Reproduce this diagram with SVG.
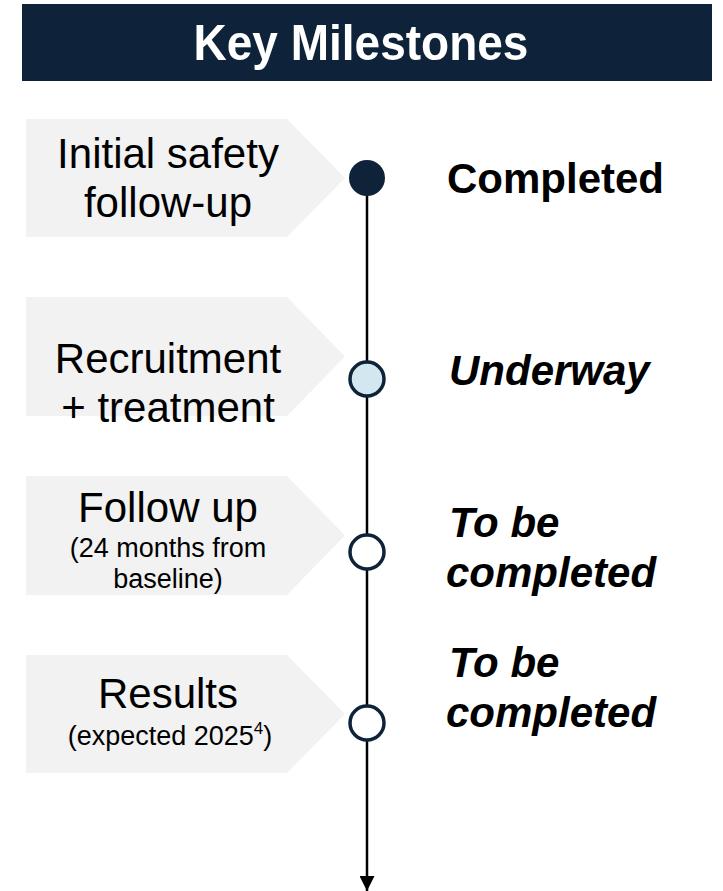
<svg xmlns="http://www.w3.org/2000/svg" width="723" height="891" viewBox="0 0 723 891">
  <defs>
    <style>
      .step { fill: #f2f2f2; }
      .lbl { font-family: "Liberation Sans", Arial, sans-serif; font-size: 42px; fill: #000; text-anchor: middle; }
      .sub { font-size: 27px; }
      .status { font-family: "Liberation Sans", Arial, sans-serif; font-size: 42px; font-weight: bold; fill: #000; }
      .it { font-style: italic; }
      .dot { stroke: #0e2339; stroke-width: 3.5; }
      .axis { stroke: #000; stroke-width: 2.5; fill: none; }
    </style>
    <marker id="arrow" markerWidth="15" markerHeight="15" refX="15" refY="7.5" orient="auto" markerUnits="userSpaceOnUse">
      <path d="M0,0 L15,7.5 L0,15 Z" fill="#000"/>
    </marker>
  </defs>

  <rect width="723" height="891" fill="#fff"/>

  <!-- Title bar -->
  <g id="title">
    <rect x="22" y="4" width="690" height="77" fill="#0e2339"/>
    <text x="361" y="60" transform="translate(0,-6) scale(1,1.1)" font-family="'Liberation Sans', Arial, sans-serif" font-size="46" font-weight="bold" fill="#fff" text-anchor="middle">Key Milestones</text>
  </g>

  <!-- Timeline axis -->
  <g id="connectors">
    <line class="axis" x1="367" y1="178" x2="367" y2="891" marker-end="url(#arrow)"/>
  </g>

  <!-- Milestone 1 -->
  <g id="milestone-1">
    <polygon class="step" points="26,119 287,119 345,178 287,237 26,237"/>
    <text class="lbl" x="168" y="168">Initial safety</text>
    <text class="lbl" x="168" y="217">follow-up</text>
    <circle cx="367" cy="178" r="18" fill="#0e2339"/>
    <text class="status" x="447" y="193">Completed</text>
  </g>

  <!-- Milestone 2 -->
  <g id="milestone-2">
    <polygon class="step" points="26,297 287,297 345,356.5 287,416 26,416"/>
    <text class="lbl" x="168" y="373">Recruitment</text>
    <text class="lbl" x="168" y="422">+ treatment</text>
    <circle class="dot" cx="367" cy="379" r="17" fill="#d3e7f0"/>
    <text class="status it" x="449" y="385">Underway</text>
  </g>

  <!-- Milestone 3 -->
  <g id="milestone-3">
    <polygon class="step" points="26,476 287,476 345,535.5 287,595 26,595"/>
    <text class="lbl" x="168" y="522">Follow up</text>
    <text class="lbl sub" x="168" y="557">(24 months from</text>
    <text class="lbl sub" x="168" y="588">baseline)</text>
    <circle class="dot" cx="367" cy="552" r="17" fill="#fff"/>
    <text class="status it" x="449" y="537">To be</text>
    <text class="status it" x="446" y="587">completed</text>
  </g>

  <!-- Milestone 4 -->
  <g id="milestone-4">
    <polygon class="step" points="26,655 287,655 345,714 287,773 26,773"/>
    <text class="lbl" x="168" y="708">Results</text>
    <text class="lbl sub" x="170" y="745">(expected 2025<tspan font-size="17" dy="-11">4</tspan><tspan dy="11">)</tspan></text>
    <circle class="dot" cx="367" cy="723" r="17" fill="#fff"/>
    <text class="status it" x="449" y="677">To be</text>
    <text class="status it" x="446" y="727">completed</text>
  </g>
</svg>
